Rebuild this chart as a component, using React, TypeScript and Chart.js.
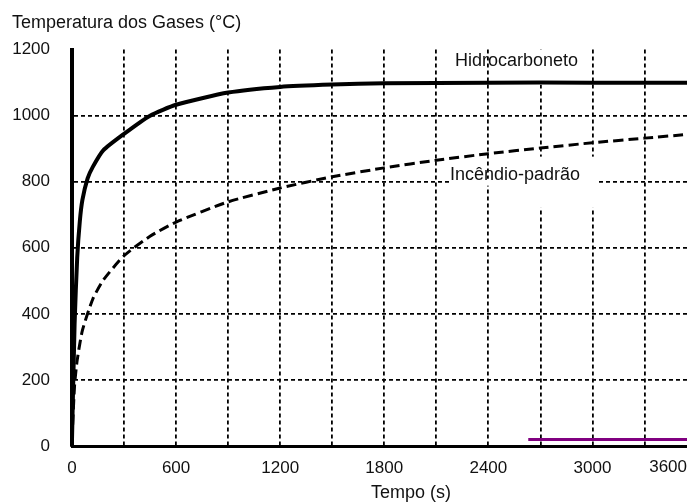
import React, { useEffect, useRef } from 'react';
import { Chart, registerables } from 'chart.js';

Chart.register(...registerables);

// Hidrocarboneto curve (time in s, temperature in °C)
const hydroTime = [0, 15, 30, 45, 60, 90, 120, 180, 300, 450, 600, 900, 1200, 1500, 1800, 2400, 3000, 3545];
const hydroTemp = [20, 370, 570, 680, 745, 810, 845, 895, 945, 1000, 1033, 1070, 1087, 1094, 1098, 1100, 1100, 1100];

// Incêndio-padrão curve
const isoTime = [0, 15, 30, 60, 120, 180, 300, 450, 600, 900, 1200, 1500, 1800, 2100, 2400, 2700, 3000, 3300, 3545];
const isoTemp = [20, 185, 260, 350, 445, 502, 576, 635, 678, 739, 781, 815, 842, 865, 885, 902, 918, 932, 943];

// purple segment near the bottom
const purpleTime = [2630, 3545];
const purpleTemp = [20, 20];

const xGridValues = [0, 300, 600, 900, 1200, 1500, 1800, 2100, 2400, 2700, 3000, 3300];
const xTickLabels = [0, 600, 1200, 1800, 2400, 3000];
const xClippedLabel = '3600';
const yTicks = [0, 200, 400, 600, 800, 1000, 1200];

const FONT = "'Liberation Sans', Arial, sans-serif";
const TXT = '#111';

const toPts = (xs: number[], ys: number[]) => xs.map((x, i) => ({ x, y: ys[i] }));

const annotPlugin = {
  id: 'annot',
  beforeDatasetsDraw(chart: any) {
    const { ctx, scales } = chart;
    const x = scales.x, y = scales.y;
    ctx.save();
    ctx.fillStyle = '#fff';
    const box = (t0: number, t1: number, v0: number, v1: number) => {
      const px0 = x.getPixelForValue(t0), px1 = x.getPixelForValue(t1);
      const py0 = y.getPixelForValue(v1), py1 = y.getPixelForValue(v0);
      ctx.fillRect(px0, py0, px1 - px0, py1 - py0);
    };
    box(2438, 2957, 1094, 1200);
    box(2524, 3020, 721, 876);
    box(2179, 3020, 788, 809);
    ctx.restore();
  },
  afterDatasetsDraw(chart: any) {
    const { ctx, scales, chartArea } = chart;
    const x = scales.x, y = scales.y;
    ctx.save();
    ctx.fillStyle = TXT;
    ctx.font = `18px ${FONT}`;
    ctx.textBaseline = 'middle';
    ctx.textAlign = 'left';
    ctx.fillText('Hidrocarboneto', x.getPixelForValue(2207), y.getPixelForValue(1164));
    ctx.fillText('Incêndio-padrão', x.getPixelForValue(2179), y.getPixelForValue(821));
    ctx.textAlign = 'center';
    ctx.fillText('Tempo (s)', x.getPixelForValue(1954), chart.height - 11);
    ctx.font = `17px ${FONT}`;
    ctx.textAlign = 'right';
    ctx.fillText(xClippedLabel, chart.width, chartArea.bottom + 21);
    ctx.restore();
  },
};

export default function App() {
  const ref = useRef<HTMLCanvasElement>(null);
  useEffect(() => {
    document.body.style.margin = '0';
    Chart.defaults.font.family = FONT;
    const chart = new Chart(ref.current as HTMLCanvasElement, {
      type: 'line',
      data: {
        datasets: [
          {
            data: toPts(hydroTime, hydroTemp),
            borderColor: '#000',
            borderWidth: 4,
            pointRadius: 0,
            tension: 0.2,
          },
          {
            data: toPts(isoTime, isoTemp),
            borderColor: '#000',
            borderWidth: 3,
            borderDash: [10, 5],
            pointRadius: 0,
            tension: 0.2,
          },
          {
            data: toPts(purpleTime, purpleTemp),
            borderColor: '#800080',
            borderWidth: 3,
            pointRadius: 0,
          },
        ],
      },
      options: {
        responsive: false,
        animation: false,
        layout: { padding: { left: 12, right: 0, top: 0, bottom: 0 } },
        plugins: {
          legend: { display: false },
          tooltip: { enabled: false },
          title: {
            display: true,
            text: 'Temperatura dos Gases (°C)',
            align: 'start',
            color: TXT,
            font: { size: 18, weight: 'normal' },
            padding: { top: 12, bottom: 16 },
          },
        },
        scales: {
          x: {
            type: 'linear',
            min: 0,
            max: 3545,
            afterBuildTicks: (s: any) => { s.ticks = xGridValues.map((v) => ({ value: v })); },
            afterFit: (s: any) => { s.height = 58; s.paddingRight = 0; },
            ticks: {
              autoSkip: false,
              maxRotation: 0,
              color: TXT,
              font: { size: 17 },
              padding: 12,
              callback: (v: any) => (xTickLabels.includes(Number(v)) ? String(v) : ''),
            },
            grid: {
              drawTicks: false,
              lineWidth: 1.8,
              color: (c: any) => {
                const v = c.tick ? c.tick.value : 0;
                return v > 0 ? '#000' : 'rgba(0,0,0,0)';
              },
            },
            border: { display: true, color: '#000', width: 3, dash: [4, 3] },
          },
          y: {
            min: 0,
            max: 1200,
            afterBuildTicks: (s: any) => { s.ticks = yTicks.map((v) => ({ value: v })); },
            afterFit: (s: any) => { s.width = 60; },
            ticks: {
              color: TXT,
              font: { size: 17 },
              padding: 22,
              callback: (v: any) => String(v),
            },
            grid: {
              drawTicks: false,
              lineWidth: 1.8,
              color: (c: any) => {
                const v = c.tick ? c.tick.value : 0;
                return v > 0 && v < 1200 ? '#000' : 'rgba(0,0,0,0)';
              },
            },
            border: { display: true, color: '#000', width: 4, dash: [4, 3] },
          },
        },
      },
      plugins: [annotPlugin],
    } as any);
    return () => chart.destroy();
  }, []);
  return (
    <div style={{ width: 687, height: 504 }}>
      <canvas ref={ref} width={687} height={504} />
    </div>
  );
}
